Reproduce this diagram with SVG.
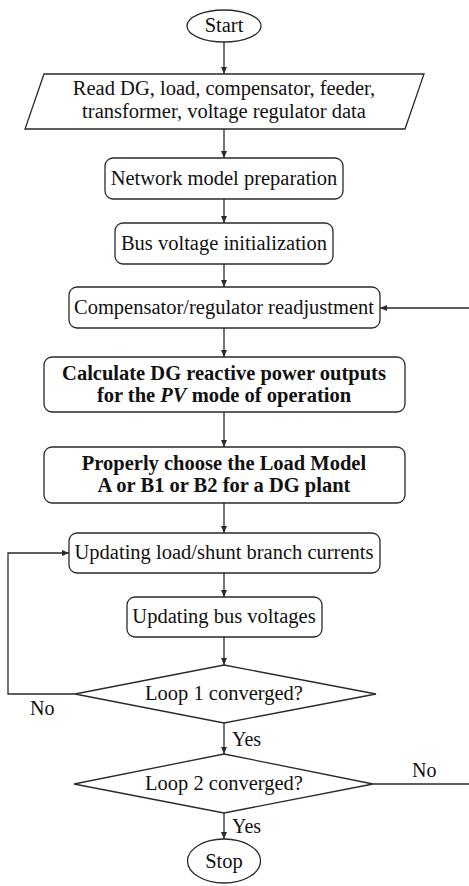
<svg xmlns="http://www.w3.org/2000/svg" width="469" height="886" viewBox="0 0 469 886">
<style>
  .shape { fill: #fff; stroke: #2a2a2a; stroke-width: 1.3; }
  .t { font-family: "Liberation Serif", "Times New Roman", serif; font-size: 20.5px; fill: #111; text-anchor: middle; }
  .b { font-weight: bold; }
  .lbl { font-family: "Liberation Serif", "Times New Roman", serif; font-size: 20px; fill: #111; }
  .conn { fill: none; stroke: #2a2a2a; stroke-width: 1.3; }
</style>
<defs>
  <marker id="ah" markerWidth="8" markerHeight="8" refX="7" refY="4" orient="auto" markerUnits="userSpaceOnUse">
    <path d="M0,1 L7,4 L0,7 Z" fill="#2a2a2a"/>
  </marker>
</defs>
<rect width="469" height="886" fill="#fff"/>

<g id="connectors">
  <line class="conn" x1="224" y1="42" x2="224" y2="74" marker-end="url(#ah)"/>
  <line class="conn" x1="224" y1="129" x2="224" y2="158" marker-end="url(#ah)"/>
  <line class="conn" x1="224" y1="199" x2="224" y2="223" marker-end="url(#ah)"/>
  <line class="conn" x1="224" y1="264" x2="224" y2="287" marker-end="url(#ah)"/>
  <line class="conn" x1="224" y1="328" x2="224" y2="357" marker-end="url(#ah)"/>
  <line class="conn" x1="224" y1="412" x2="224" y2="447" marker-end="url(#ah)"/>
  <line class="conn" x1="224" y1="503" x2="224" y2="533" marker-end="url(#ah)"/>
  <line class="conn" x1="224" y1="573" x2="224" y2="597" marker-end="url(#ah)"/>
  <line class="conn" x1="224" y1="637" x2="224" y2="665" marker-end="url(#ah)"/>
  <line class="conn" x1="224" y1="723" x2="224" y2="754" marker-end="url(#ah)"/>
  <line class="conn" x1="224" y1="813" x2="224" y2="839" marker-end="url(#ah)"/>
  <polyline class="conn" points="75,694 8,694 8,553 69,553" marker-end="url(#ah)"/>
  <line class="conn" x1="373" y1="784" x2="469" y2="784"/>
  <line class="conn" x1="469" y1="308" x2="380" y2="308" marker-end="url(#ah)"/>
  <text class="lbl" x="30" y="715">No</text>
  <text class="lbl" x="412" y="777">No</text>
  <text class="lbl" x="232" y="746">Yes</text>
  <text class="lbl" x="232" y="833">Yes</text>
</g>

<g id="start">
  <ellipse class="shape" cx="224" cy="26" rx="37" ry="16"/>
  <text class="t" x="224" y="32">Start</text>
</g>

<g id="read-data">
  <polygon class="shape" points="44,74 424,74 405,129 25,129"/>
  <text class="t" x="224" y="95">Read DG, load, compensator, feeder,</text>
  <text class="t" x="224" y="118">transformer, voltage regulator data</text>
</g>

<g id="network-model">
  <rect class="shape" x="105" y="158" width="238" height="41" rx="8"/>
  <text class="t" x="224" y="185">Network model preparation</text>
</g>

<g id="bus-init">
  <rect class="shape" x="115" y="223" width="218" height="41" rx="8"/>
  <text class="t" x="224" y="250">Bus voltage initialization</text>
</g>

<g id="compensator">
  <rect class="shape" x="69" y="287" width="311" height="41" rx="8"/>
  <text class="t" x="224" y="314">Compensator/regulator readjustment</text>
</g>

<g id="calc-dg">
  <rect class="shape" x="44" y="357" width="361" height="55" rx="8"/>
  <text class="t b" x="224" y="380">Calculate DG reactive power outputs</text>
  <text class="t b" x="224" y="402">for the <tspan font-style="italic">PV</tspan> mode of operation</text>
</g>

<g id="load-model">
  <rect class="shape" x="44" y="447" width="361" height="56" rx="8"/>
  <text class="t b" x="224" y="470">Properly choose the Load Model</text>
  <text class="t b" x="224" y="492">A or B1 or B2 for a DG plant</text>
</g>

<g id="update-currents">
  <rect class="shape" x="69" y="533" width="311" height="40" rx="8"/>
  <text class="t" x="224" y="559">Updating load/shunt branch currents</text>
</g>

<g id="update-voltages">
  <rect class="shape" x="127" y="597" width="195" height="40" rx="8"/>
  <text class="t" x="224" y="623">Updating bus voltages</text>
</g>

<g id="loop1">
  <polygon class="shape" points="224,665 376,694 224,723 75,694"/>
  <text class="t" x="224" y="700">Loop 1 converged?</text>
</g>

<g id="loop2">
  <polygon class="shape" points="224,754 373,784 224,813 74,784"/>
  <text class="t" x="224" y="790">Loop 2 converged?</text>
</g>

<g id="stop">
  <ellipse class="shape" cx="224" cy="861" rx="36.5" ry="22"/>
  <text class="t" x="224" y="868">Stop</text>
</g>
</svg>
